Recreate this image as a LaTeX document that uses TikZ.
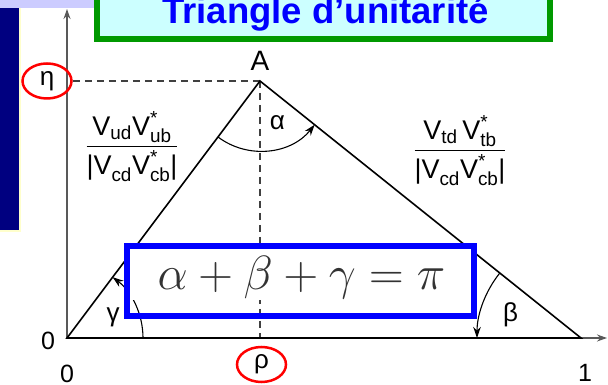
\RequirePackage{fix-cm}
\documentclass[tikz,border=0pt]{standalone}
\usepackage{amsmath}
\usepackage[no-math]{fontspec}
\setmainfont{Liberation Sans}
\usetikzlibrary{shapes.geometric,arrows.meta}
\definecolor{lavender}{HTML}{CCCCFF}
\definecolor{navyband}{HTML}{000080}
\definecolor{paleyellow}{HTML}{FFFFCC}
\definecolor{titlegreen}{HTML}{009900}
\definecolor{titlecyan}{HTML}{CCFFFF}
\definecolor{pureblue}{HTML}{0000FF}
\begin{document}
\begin{tikzpicture}[x=1pt,y=1pt,
  lbl/.style={inner sep=0pt, font=\fontsize{25}{30}\selectfont},
  grk/.style={inner sep=0pt, font=\fontsize{26}{30}\selectfont},
  axisline/.style={draw=black!65, line width=1.3pt, -{Stealth[length=10pt,width=7pt]}},
  tri/.style={draw=black, line width=1.6pt, line join=miter},
  guide/.style={draw=black!75, line width=1.2pt, dash pattern=on 7pt off 5pt},
  anglearc/.style={draw=black, line width=1.1pt, -{Stealth[length=11pt,width=7.5pt]}},
  ring/.style={ellipse, draw=red, line width=2.5pt, inner sep=0pt, minimum width=49pt, minimum height=35pt, font=\fontsize{26}{30}\selectfont},
  fracnode/.style={inner sep=0pt, anchor=base, font=\fontsize{27}{32}\selectfont},
]
\useasboundingbox (0,0) rectangle (608,385);
\clip (0,0) rectangle (608,385);
% slide background pieces
\fill[lavender] (0,377) rectangle (96,385);
\fill[paleyellow] (0,153) rectangle (20.5,377);
\fill[navyband] (0,155) rectangle (18.5,377);
% title
\node[draw=titlegreen, fill=titlecyan, line width=5.5pt, minimum width=453pt, minimum height=60pt, inner sep=0pt] (titlebox) at (323.5,376) {};
\node[anchor=base, text=pureblue, font=\fontsize{36.5}{40}\selectfont\bfseries, inner sep=0pt] (title) at (325.5,361.5) {Triangle d’unitarité};
% key points
\coordinate (O) at (67,47);
\coordinate (A) at (260,304);
\coordinate (B) at (581,47);
\coordinate (xtip) at (607,47);
\coordinate (ytip) at (67,376);
\coordinate (foot) at (260,47);
% axes
\draw[axisline] (O) -- (xtip);
\draw[axisline] (O) -- (ytip);
% ring labels
\node[ring] (eta) at (47,304) {η};
\node[ring] (rho) at (261.5,20.5) {ρ};
% guides
\draw[guide] (eta.east) -- (A);
\draw[guide] (A) -- (foot);
% triangle
\draw[tri] (O) -- (A) -- (B) -- cycle;
% angle arcs
\draw[anglearc] ([shift={(0:76)}]O) arc[start angle=0, end angle=53.13, radius=76];
\draw[anglearc] ([shift={(233.13:70)}]A) arc[start angle=233.13, end angle=321.32, radius=70];
\draw[anglearc] ([shift={(141.32:104)}]B) arc[start angle=141.32, end angle=180, radius=104];
% formula box
\node[fill=white, minimum width=341pt, minimum height=51pt, inner sep=0pt] (cover) at (300.5,110.5) {};
\node[draw=pureblue, line width=6pt, minimum width=346.5pt, minimum height=70pt, inner sep=0pt] (box) at (300.25,103.7) {};
\node[anchor=base, text=black!80, font=\fontsize{48}{56}\selectfont, inner sep=0pt] (formula) at (301.5,95) {$\alpha+\beta+\gamma=\pi$};
% labels
\node[inner sep=0pt, font=\fontsize{28}{32}\selectfont] (Alab) at (260,324) {A};
\node[lbl] (zeroL) at (48,44.5) {0};
\node[lbl] (zeroB) at (67,11) {0};
\node[lbl] (oneB) at (585,12) {1};
\node[grk] (gam) at (113,68) {γ};
\node[grk] (bet) at (510.5,70) {β};
\node[grk] (alp) at (277.5,262.5) {α};
% ratios
\node[fracnode] (fracL) at (132,231.25) {$\dfrac{\text{V}_{\text{ud}}\text{V}^{\text{*}}_{\text{ub}}}{\text{|V}_{\text{cd}}\text{V}^{\text{*}}_{\text{cb}}\text{|}}$};
\node[fracnode] (fracR) at (460,227.25) {$\dfrac{\text{V}_{\text{td}}\,\text{V}^{\text{*}}_{\text{tb}}}{\text{|V}_{\text{cd}}\text{V}^{\text{*}}_{\text{cb}}\text{|}}$};
\end{tikzpicture}
\end{document}
